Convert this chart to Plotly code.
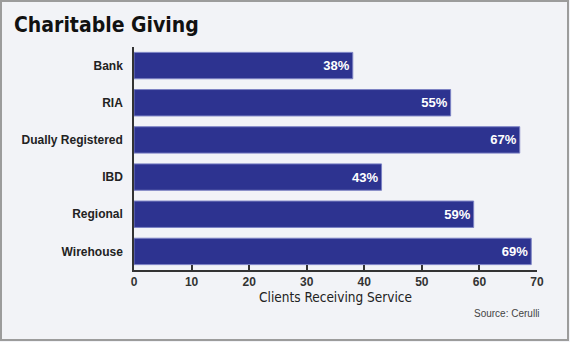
import plotly.graph_objects as go

categories = ["Bank", "RIA", "Dually Registered", "IBD", "Regional", "Wirehouse"]
values = [38, 55, 67, 43, 59, 69]
labels = ["38%", "55%", "67%", "43%", "59%", "69%"]
x_ticks = [0, 10, 20, 30, 40, 50, 60, 70]

W, H = 570, 342
L, R, T, B = 134, 33, 47, 72
pw, ph = W - L - R, H - T - B

def px2x(p):
    return (p - L) / pw

def py2y(p):
    return (H - B - p) / ph

FONT = "Liberation Sans, Arial, sans-serif"
TFONT = "DejaVu Sans Condensed, Liberation Sans, Arial, sans-serif"
BAR = "#2d3390"

fig = go.Figure(go.Bar(
    x=values, y=categories, orientation="h",
    marker=dict(color=BAR, line=dict(color="#7c82c4", width=1)),
    text=labels, textposition="inside", insidetextanchor="end",
    textfont=dict(family=FONT, size=13, color="white", weight="bold"),
    width=0.71,
))

fig.update_layout(
    width=W, height=H,
    margin=dict(l=L, r=R, t=T, b=B),
    paper_bgcolor="#f2f3f7", plot_bgcolor="#f2f3f7",
    showlegend=False,
    title=dict(text="<b>Charitable Giving</b>", x=14 / W, xanchor="left",
               xref="container",
               y=1 - 25 / H, yanchor="middle",
               font=dict(family=TFONT, size=21, color="#111")),
    font=dict(family=FONT, color="#222"),
)
fig.update_xaxes(
    range=[0, 70], tickvals=x_ticks, ticktext=[str(v) for v in x_ticks],
    showgrid=False, zeroline=False, showline=True, linecolor="#333", linewidth=1.5,
    ticks="inside", ticklen=5, tickcolor="#333", tickwidth=1.5,
    tickfont=dict(family=FONT, size=12, color="#333", weight="bold"),
    title=dict(text="Clients Receiving Service", standoff=3,
               font=dict(family=TFONT, size=13.5, color="#222")),
)
fig.update_yaxes(
    categoryorder="array", categoryarray=categories, autorange="reversed",
    showgrid=False, zeroline=False, showline=True, linecolor="#333", linewidth=1.5,
    ticks="", ticklabelstandoff=7,
    tickfont=dict(family=FONT, size=12, color="#222", weight="bold"),
)

fig.add_annotation(text="Source: Cerulli", xref="paper", yref="paper",
                   x=px2x(542), y=py2y(313), xanchor="right", yanchor="middle",
                   showarrow=False, font=dict(family=FONT, size=10, color="#444"))

fig.add_shape(type="rect", xref="paper", yref="paper",
              x0=px2x(1), x1=px2x(568), y0=py2y(1), y1=py2y(340),
              line=dict(color="#9c9c9c", width=2), layer="below")

fig.write_html("out.html")
